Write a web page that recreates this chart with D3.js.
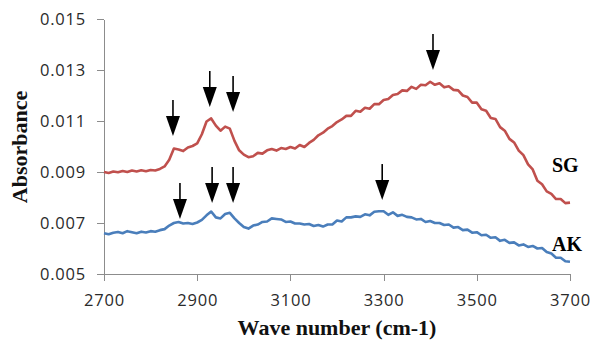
<!DOCTYPE html>
<html lang="en">

<head>
  <meta charset="UTF-8">
  <title>Absorbance</title>
  <style>
    body {
      margin: 0;
      background: #fff;
    }

    .axis path,
    .axis line {
      stroke: #8c8c8c;
      stroke-width: 1;
      shape-rendering: crispEdges;
    }

    .axis text {
      font-family: "Open Sans", sans-serif;
      font-size: 16.5px;
      letter-spacing: 0.8px;
      fill: #2a2a2a;
    }

    .title {
      font-family: "Liberation Serif", "Times New Roman", serif;
      font-weight: bold;
      font-size: 22px;
      fill: #111;
    }

    .series-label {
      font-family: "Liberation Serif", "Times New Roman", serif;
      font-weight: bold;
      font-size: 20px;
      fill: #000;
    }
  </style>
</head>

<body>
  <svg id="chart" width="592" height="343"></svg>
  <script src="https://cdn.jsdelivr.net/npm/d3@7/dist/d3.min.js"></script>
  <script>
    // wave numbers (cm-1), one sample every 10
    var waveNumbers = [
      2700, 2710, 2720, 2730, 2740, 2750, 2760, 2770, 2780, 2790,
      2800, 2810, 2820, 2830, 2840, 2850, 2860, 2870, 2880, 2890,
      2900, 2910, 2920, 2930, 2940, 2950, 2960, 2970, 2980, 2990,
      3000, 3010, 3020, 3030, 3040, 3050, 3060, 3070, 3080, 3090,
      3100, 3110, 3120, 3130, 3140, 3150, 3160, 3170, 3180, 3190,
      3200, 3210, 3220, 3230, 3240, 3250, 3260, 3270, 3280, 3290,
      3300, 3310, 3320, 3330, 3340, 3350, 3360, 3370, 3380, 3390,
      3400, 3410, 3420, 3430, 3440, 3450, 3460, 3470, 3480, 3490,
      3500, 3510, 3520, 3530, 3540, 3550, 3560, 3570, 3580, 3590,
      3600, 3610, 3620, 3630, 3640, 3650, 3660, 3670, 3680, 3690,
      3700
    ];

    var sgValues = [
      0.00900, 0.00896, 0.00902, 0.00899, 0.00904, 0.00900, 0.00906, 0.00902, 0.00907, 0.00903,
      0.00908, 0.00906, 0.00912, 0.00922, 0.00948, 0.00992, 0.00988, 0.00982, 0.00996, 0.01002,
      0.01012, 0.01048, 0.01098, 0.01110, 0.01082, 0.01062, 0.01078, 0.01070, 0.01022, 0.00985,
      0.00968, 0.00958, 0.00962, 0.00975, 0.00972, 0.00985, 0.00990, 0.00984, 0.00994, 0.00990,
      0.00998, 0.00992, 0.01006, 0.00998, 0.01014, 0.01026, 0.01044, 0.01054, 0.01070, 0.01080,
      0.01096, 0.01106, 0.01120, 0.01120, 0.01140, 0.01136, 0.01152, 0.01148, 0.01166, 0.01166,
      0.01182, 0.01186, 0.01202, 0.01206, 0.01220, 0.01218, 0.01234, 0.01226, 0.01242, 0.01240,
      0.01254, 0.01242, 0.01248, 0.01232, 0.01236, 0.01222, 0.01220, 0.01200, 0.01194, 0.01172,
      0.01172, 0.01146, 0.01140, 0.01112, 0.01108, 0.01076, 0.01062, 0.01030, 0.01016, 0.00984,
      0.00966, 0.00930, 0.00910, 0.00866, 0.00852, 0.00824, 0.00814, 0.00794, 0.00794, 0.00778,
      0.00780
    ];

    var akValues = [
      0.00660, 0.00656, 0.00662, 0.00665, 0.00660, 0.00668, 0.00664, 0.00660, 0.00666, 0.00663,
      0.00668, 0.00666, 0.00672, 0.00676, 0.00690, 0.00700, 0.00704, 0.00698, 0.00700, 0.00696,
      0.00702, 0.00712, 0.00730, 0.00745, 0.00722, 0.00718, 0.00735, 0.00740, 0.00718, 0.00700,
      0.00684, 0.00678, 0.00690, 0.00694, 0.00704, 0.00706, 0.00718, 0.00716, 0.00714, 0.00704,
      0.00706, 0.00698, 0.00698, 0.00694, 0.00696, 0.00688, 0.00692, 0.00686, 0.00694, 0.00694,
      0.00710, 0.00706, 0.00722, 0.00722, 0.00726, 0.00724, 0.00734, 0.00730, 0.00744, 0.00746,
      0.00746, 0.00732, 0.00742, 0.00728, 0.00732, 0.00724, 0.00722, 0.00714, 0.00716, 0.00704,
      0.00708, 0.00700, 0.00700, 0.00692, 0.00694, 0.00682, 0.00684, 0.00672, 0.00674, 0.00662,
      0.00664, 0.00652, 0.00654, 0.00642, 0.00644, 0.00630, 0.00634, 0.00622, 0.00624, 0.00612,
      0.00616, 0.00606, 0.00610, 0.00600, 0.00602, 0.00586, 0.00580, 0.00564, 0.00564, 0.00550,
      0.00548
    ];

    var xTicks = [2700, 2900, 3100, 3300, 3500, 3700];
    var yTicks = [0.005, 0.007, 0.009, 0.011, 0.013, 0.015];

    // arrows: wave number and absorbance of the arrow tip
    var sgArrowWaves = [2848, 2927, 2977, 3406];
    var sgArrowTips = [0.01041, 0.01155, 0.01135, 0.01300];
    var akArrowWaves = [2863, 2932, 2977, 3297];
    var akArrowTips = [0.00716, 0.00778, 0.00778, 0.00790];

    var seriesNames = ['SG', 'AK'];

    var margin = { top: 19, left: 104 };
    var width = 466, height = 255;

    var svg = d3.select('#chart');
    var g = svg.append('g').attr('transform', 'translate(' + margin.left + ',' + margin.top + ')');

    var x = d3.scaleLinear().domain([2700, 3700]).range([0, width]);
    var y = d3.scaleLinear().domain([0.005, 0.015]).range([height, 0]);

    g.append('g')
      .attr('class', 'axis')
      .call(d3.axisLeft(y).tickValues(yTicks).tickSize(7).tickSizeOuter(0).tickPadding(11).tickFormat(d3.format('.3f')));

    g.append('g')
      .attr('class', 'axis')
      .attr('transform', 'translate(0,' + height + ')')
      .call(d3.axisBottom(x).tickValues(xTicks).tickSize(7).tickSizeOuter(0).tickPadding(13).tickFormat(d3.format('d')));

    var line = d3.line()
      .x(function (d) { return x(d[0]); })
      .y(function (d) { return y(d[1]); });

    var series = [
      { name: 'SG', values: sgValues, color: '#c0504d' },
      { name: 'AK', values: akValues, color: '#4a7ebb' }
    ];

    series.forEach(function (s) {
      var pts = waveNumbers.map(function (w, i) { return [w, s.values[i]]; });
      g.append('path')
        .attr('d', line(pts))
        .attr('fill', 'none')
        .attr('stroke', s.color)
        .attr('stroke-width', 2.6)
        .attr('stroke-linejoin', 'round');
    });

    // arrows pointing down at the peaks
    var arrows = [];
    sgArrowWaves.forEach(function (w, i) { arrows.push({ w: w, v: sgArrowTips[i] }); });
    akArrowWaves.forEach(function (w, i) { arrows.push({ w: w, v: akArrowTips[i] }); });

    var headLen = 20, headHalf = 7, shaftLen = 16;
    var ag = g.selectAll('g.arrow')
      .data(arrows)
      .enter()
      .append('g')
      .attr('class', 'arrow')
      .attr('transform', function (d) { return 'translate(' + x(d.w) + ',' + y(d.v) + ')'; });
    ag.append('line')
      .attr('x1', 0).attr('x2', 0)
      .attr('y1', -(headLen + shaftLen)).attr('y2', -headLen + 1)
      .attr('stroke', '#000')
      .attr('stroke-width', 1.6);
    ag.append('path')
      .attr('d', 'M0,0L' + (-headHalf) + ',' + (-headLen) + 'L' + headHalf + ',' + (-headLen) + 'Z')
      .attr('fill', '#000');

    // series labels at the right end
    g.append('text')
      .attr('class', 'series-label')
      .attr('x', x(3700) - 18)
      .attr('y', y(0.00901))
      .text(seriesNames[0]);
    g.append('text')
      .attr('class', 'series-label')
      .attr('x', x(3700) - 18)
      .attr('y', y(0.00592))
      .text(seriesNames[1]);

    // axis titles
    svg.append('text')
      .attr('class', 'title')
      .attr('text-anchor', 'middle')
      .attr('x', 337)
      .attr('y', 335)
      .text('Wave number (cm-1)');

    svg.append('text')
      .attr('class', 'title')
      .attr('text-anchor', 'middle')
      .attr('transform', 'translate(27,147) rotate(-90)')
      .text('Absorbance');
  </script>
</body>

</html>
